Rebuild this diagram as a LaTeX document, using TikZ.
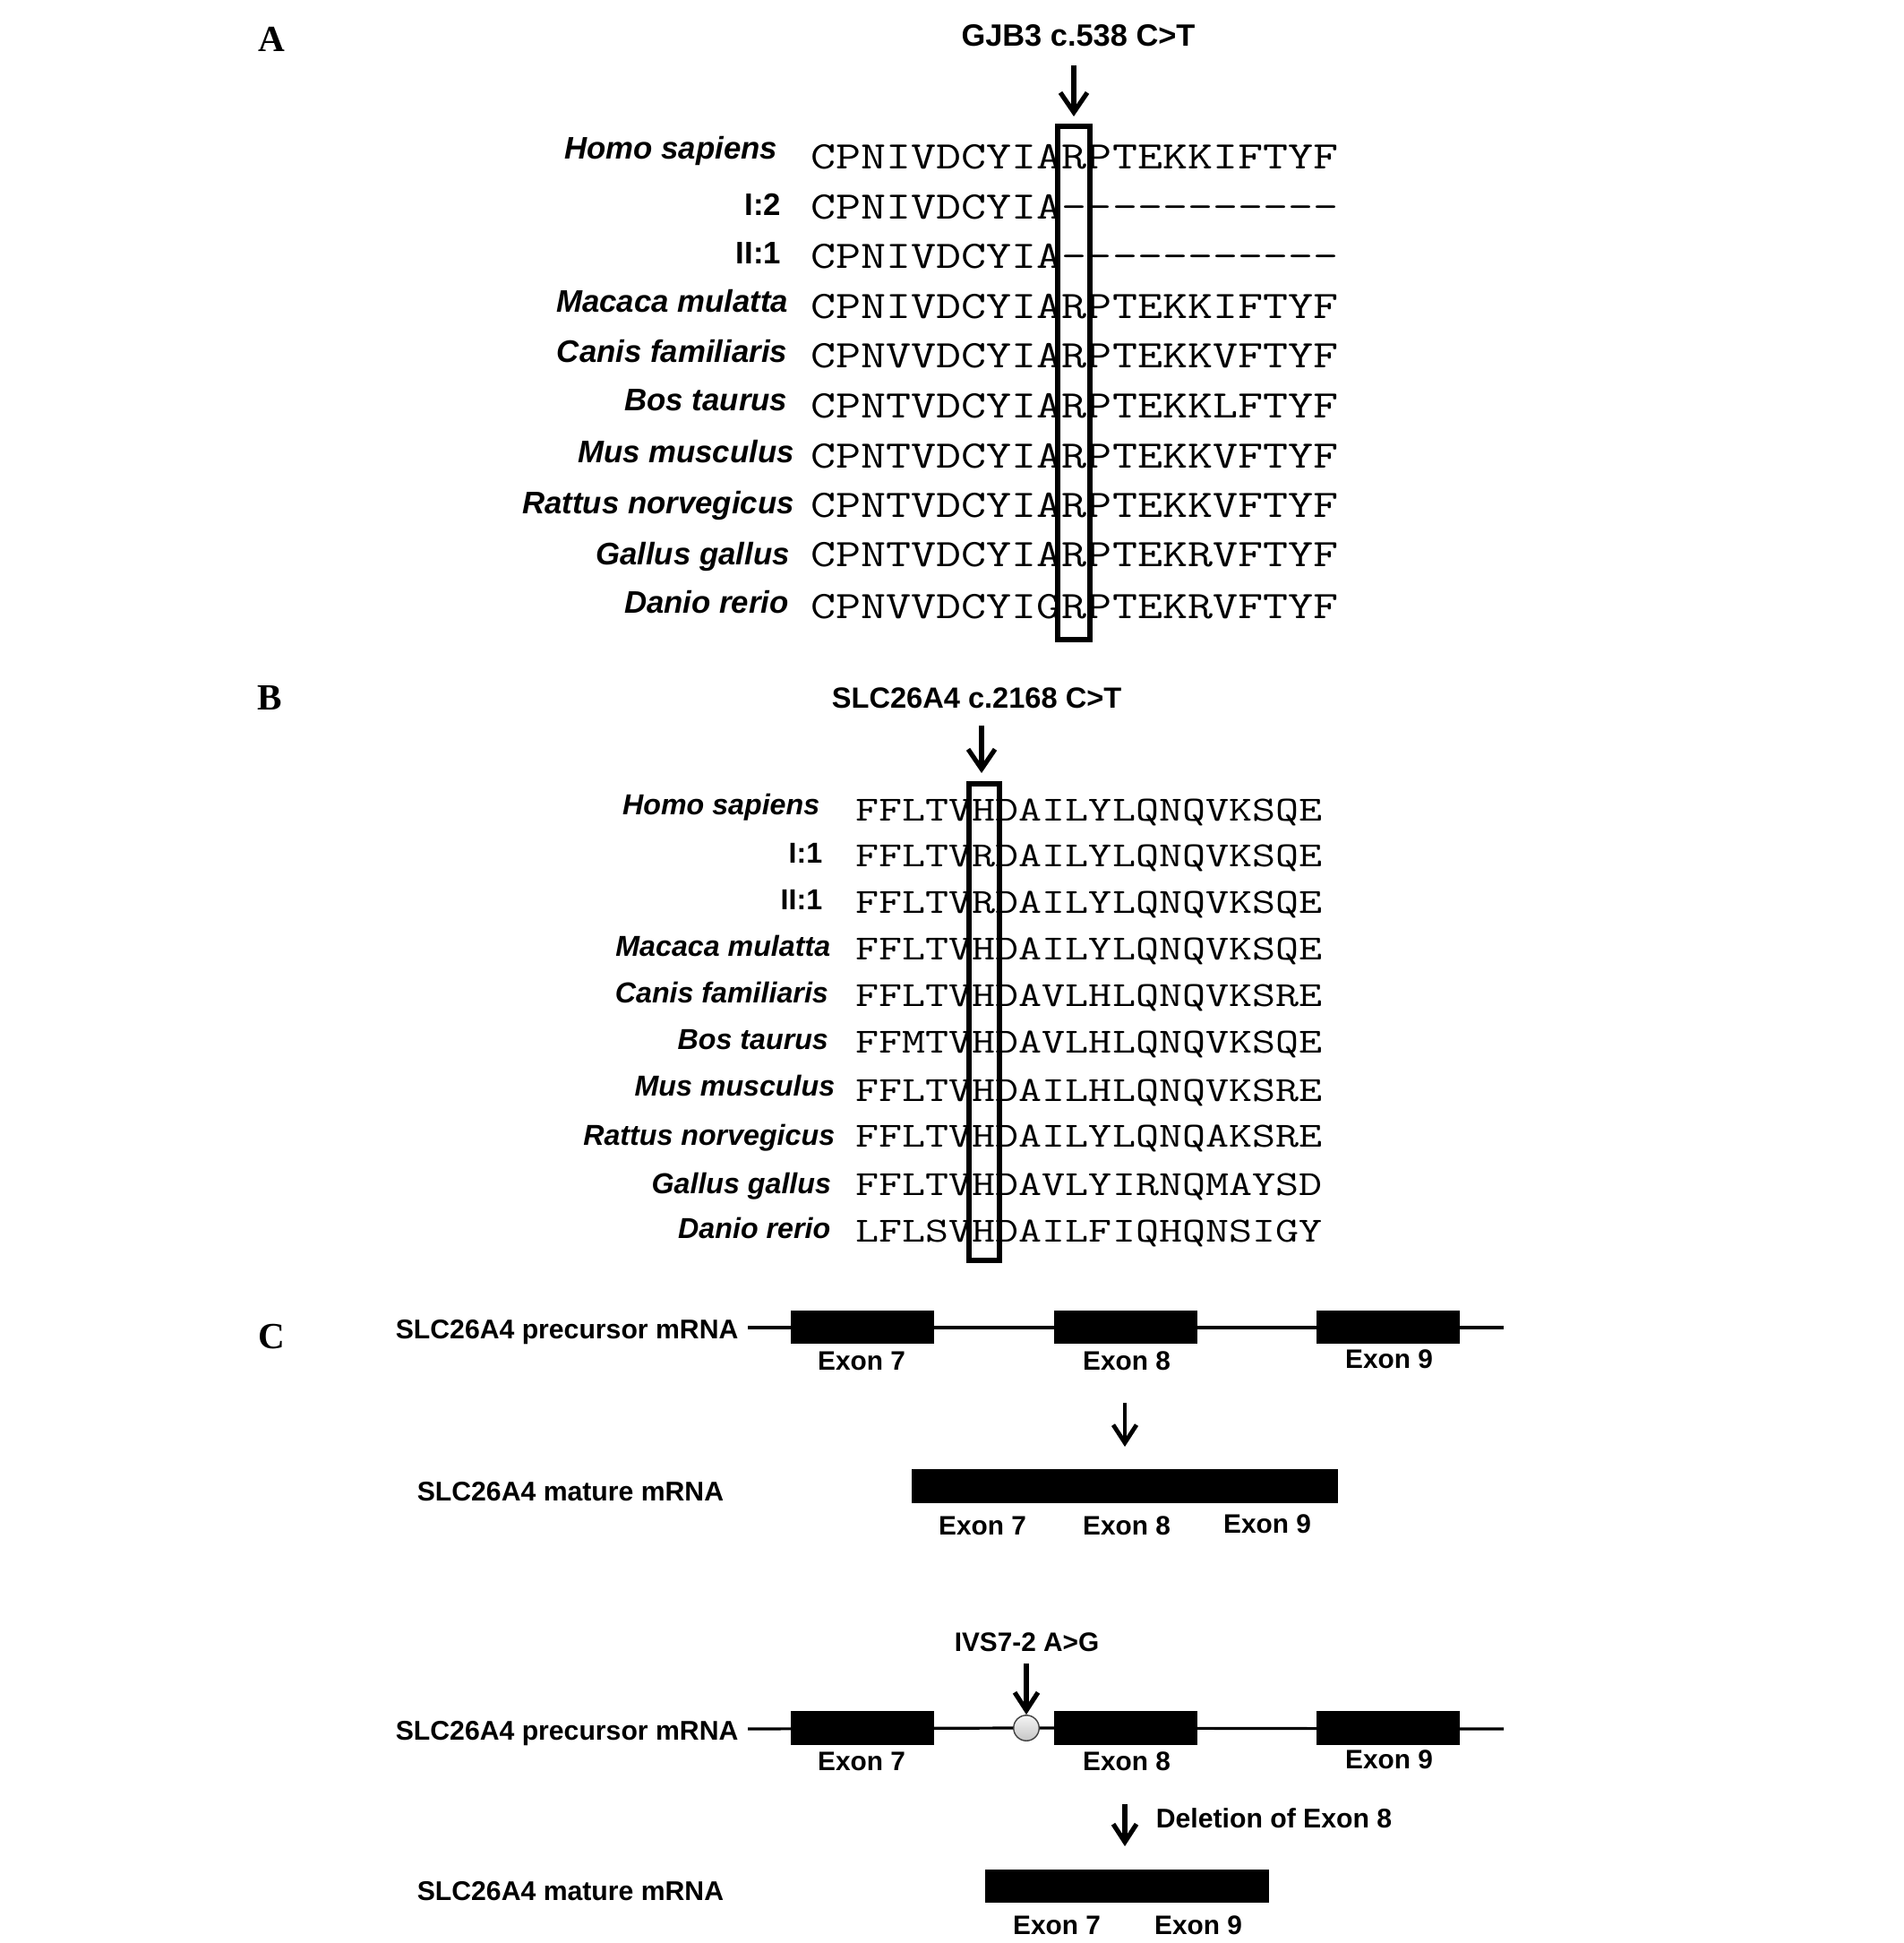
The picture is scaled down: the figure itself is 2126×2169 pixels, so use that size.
\documentclass[tikz,border=0pt]{standalone}
\usepackage{fontspec}
\setmainfont{Liberation Sans}
\newfontfamily\panelfont{Liberation Serif}
\usepackage{graphicx}
\usetikzlibrary{arrows.meta}
\newcommand\dsh{\mbox{-}}
\newcommand\seqA[1]{\scalebox{1}[0.8]{\fontsize{13.6pt}{14pt}\selectfont\ttfamily #1}}
\newcommand\seqB[1]{\scalebox{1}[0.78]{\fontsize{12.63pt}{13pt}\selectfont\ttfamily #1}}
\tikzset{
  panel/.style={anchor=base west, inner sep=0pt, font=\panelfont\bfseries\fontsize{10.3pt}{11pt}\selectfont},
  labA/.style={anchor=base east, inner sep=0pt, font=\bfseries\itshape\fontsize{8.7pt}{9pt}\selectfont},
  labB/.style={anchor=base east, inner sep=0pt, font=\bfseries\itshape\fontsize{8.05pt}{9pt}\selectfont},
  seqnode/.style={anchor=base west, inner sep=0pt},
  titleA/.style={anchor=base, inner sep=0pt, font=\bfseries\fontsize{8.6pt}{9pt}\selectfont},
  titleB/.style={anchor=base, inner sep=0pt, font=\bfseries\fontsize{8.15pt}{9pt}\selectfont},
  ctext/.style={anchor=base west, inner sep=0pt, font=\bfseries\fontsize{7.55pt}{8pt}\selectfont},
  exlab/.style={anchor=base, inner sep=0pt, font=\bfseries\fontsize{7.45pt}{8pt}\selectfont},
  hibox/.style={draw=black, line width=1.6pt},
  bigarrow/.style={line width=1.3pt, -{Straight Barb[length=5.5pt,width=7.5pt]}},
  smallarrow/.style={line width=1.2pt, -{Straight Barb[length=5pt,width=6.5pt]}},
  gene/.style={line width=0.8pt},
  exon/.style={fill=black, draw=none},
}
\begin{document}
\begin{tikzpicture}[x=0.25pt, y=-0.25pt]
\useasboundingbox (0,0) rectangle (2126,2169);
\fill[white] (0,0) rectangle (2126,2169);

% ---------------- Panel A ----------------
\node[panel] (pA) at (288,58) {A};
\node[titleA] (tA) at (1204,52) {GJB3 c.538 C>T};
\coordinate (aAs) at (1199,73);
\coordinate (aAe) at (1199,130);
\draw[bigarrow] (aAs) -- (aAe);

\node[labA] (lA1) at (869,178) {Homo sapiens};
\node[labA,font=\bfseries\fontsize{8.7pt}{9pt}\selectfont] (lA2) at (873,241) {I:2};
\node[labA,font=\bfseries\fontsize{8.7pt}{9pt}\selectfont] (lA3) at (873,294.6) {II:1};
\node[labA] (lA4) at (881,349) {Macaca mulatta};
\node[labA] (lA5) at (880,405) {Canis familiaris};
\node[labA] (lA6) at (880,459) {Bos taurus};
\node[labA] (lA7) at (887.6,517) {Mus musculus};
\node[labA] (lA8) at (887.6,574) {Rattus norvegicus};
\node[labA] (lA9) at (882.6,631) {Gallus gallus};
\node[labA] (lA10) at (881.5,685) {Danio rerio};

\node[seqnode] (sA1) at (905,188.5) {\seqA{CPNIVDCYIARPTEKKIFTYF}};
\node[seqnode] (sA2) at (905,245) {\seqA{CPNIVDCYIA\dsh\dsh\dsh\dsh\dsh\dsh\dsh\dsh\dsh\dsh\dsh}};
\node[seqnode] (sA3) at (905,299.5) {\seqA{CPNIVDCYIA\dsh\dsh\dsh\dsh\dsh\dsh\dsh\dsh\dsh\dsh\dsh}};
\node[seqnode] (sA4) at (905,356) {\seqA{CPNIVDCYIARPTEKKIFTYF}};
\node[seqnode] (sA5) at (905,410.5) {\seqA{CPNVVDCYIARPTEKKVFTYF}};
\node[seqnode] (sA6) at (905,467) {\seqA{CPNTVDCYIARPTEKKLFTYF}};
\node[seqnode] (sA7) at (905,523) {\seqA{CPNTVDCYIARPTEKKVFTYF}};
\node[seqnode] (sA8) at (905,578) {\seqA{CPNTVDCYIARPTEKKVFTYF}};
\node[seqnode] (sA9) at (905,633) {\seqA{CPNTVDCYIARPTEKRVFTYF}};
\node[seqnode] (sA10) at (905,690.6) {\seqA{CPNVVDCYIGRPTEKRVFTYF}};

\coordinate (bAtl) at (1181,141);
\coordinate (bAbr) at (1217,714);
\draw[hibox] (bAtl) rectangle (bAbr);

% ---------------- Panel B ----------------
\node[panel] (pB) at (287,792) {B};
\node[titleB] (tB) at (1090.6,790) {SLC26A4 c.2168 C>T};
\coordinate (aBs) at (1096,810);
\coordinate (aBe) at (1096,863);
\draw[bigarrow] (aBs) -- (aBe);

\node[labB] (lB1) at (916,909.6) {Homo sapiens};
\node[labB,font=\bfseries\fontsize{8.05pt}{9pt}\selectfont] (lB2) at (919,963) {I:1};
\node[labB,font=\bfseries\fontsize{8.05pt}{9pt}\selectfont] (lB3) at (919,1015) {II:1};
\node[labB] (lB4) at (928,1067) {Macaca mulatta};
\node[labB] (lB5) at (925.7,1119) {Canis familiaris};
\node[labB] (lB6) at (925.7,1171) {Bos taurus};
\node[labB] (lB7) at (933,1223) {Mus musculus};
\node[labB] (lB8) at (933,1278) {Rattus norvegicus};
\node[labB] (lB9) at (928.8,1332) {Gallus gallus};
\node[labB] (lB10) at (928,1382) {Danio rerio};

\node[seqnode] (sB1) at (955,916) {\seqB{FFLTVHDAILYLQNQVKSQE}};
\node[seqnode] (sB2) at (955,967) {\seqB{FFLTVRDAILYLQNQVKSQE}};
\node[seqnode] (sB3) at (955,1019) {\seqB{FFLTVRDAILYLQNQVKSQE}};
\node[seqnode] (sB4) at (955,1071) {\seqB{FFLTVHDAILYLQNQVKSQE}};
\node[seqnode] (sB5) at (955,1123) {\seqB{FFLTVHDAVLHLQNQVKSRE}};
\node[seqnode] (sB6) at (955,1175.5) {\seqB{FFMTVHDAVLHLQNQVKSQE}};
\node[seqnode] (sB7) at (955,1229.6) {\seqB{FFLTVHDAILHLQNQVKSRE}};
\node[seqnode] (sB8) at (955,1280) {\seqB{FFLTVHDAILYLQNQAKSRE}};
\node[seqnode] (sB9) at (955,1334.6) {\seqB{FFLTVHDAVLYIRNQMAYSD}};
\node[seqnode] (sB10) at (955,1386.6) {\seqB{LFLSVHDAILFIQHQNSIGY}};

\coordinate (bBtl) at (1082,875);
\coordinate (bBbr) at (1116,1407);
\draw[hibox] (bBtl) rectangle (bBbr);

% ---------------- Panel C ----------------
\node[panel] (pC) at (288,1505) {C};

% normal splicing
\node[ctext] (pre1) at (441,1494) {SLC26A4 precursor mRNA};
\coordinate (g1s) at (835,1482);
\coordinate (g1e) at (1679,1482);
\draw[gene] (g1s) -- (g1e);
\fill[exon] (883,1463) rectangle (1043,1500);
\fill[exon] (1177,1463) rectangle (1337,1500);
\fill[exon] (1470,1463) rectangle (1630,1500);
\node[exlab] (e17) at (962,1529) {Exon 7};
\node[exlab] (e18) at (1258,1529) {Exon 8};
\node[exlab] (e19) at (1551,1527) {Exon 9};

\coordinate (a1s) at (1256,1566);
\coordinate (a1e) at (1256,1615);
\draw[smallarrow] (a1s) -- (a1e);

\node[ctext] (mat1) at (465,1675) {SLC26A4 mature mRNA};
\fill[exon] (1018,1640) rectangle (1494,1678);
\node[exlab] (m17) at (1097,1713) {Exon 7};
\node[exlab] (m18) at (1258,1713) {Exon 8};
\node[exlab] (m19) at (1415,1711) {Exon 9};

% mutant splicing
\node[exlab] (ivs) at (1146.5,1843) {IVS7-2 A>G};
\node[circle, minimum size=28.5*0.25pt, inner sep=0pt, draw=black!75, line width=0.35pt,
      top color=gray!8, bottom color=gray!45] (mut) at (1146,1929) {};
\coordinate (a2s) at (1146,1857);
\draw[smallarrow, line width=1.3pt] (a2s) -- (mut.north);

\node[ctext] (pre2) at (441,1942) {SLC26A4 precursor mRNA};
\coordinate (g2s) at (835,1930);
\coordinate (g2e) at (1679,1930);
\draw[gene] (g2s) -- (mut.west);
\draw[gene] (mut.east) -- (g2e);
\fill[exon] (883,1910) rectangle (1043,1948);
\fill[exon] (1177,1910) rectangle (1337,1948);
\fill[exon] (1470,1910) rectangle (1630,1948);
\node[exlab] (e27) at (962,1976) {Exon 7};
\node[exlab] (e28) at (1258,1976) {Exon 8};
\node[exlab] (e29) at (1551,1974) {Exon 9};

\coordinate (a3s) at (1256,2014);
\coordinate (a3e) at (1256,2061);
\draw[smallarrow, line width=1.3pt] (a3s) -- (a3e);
\node[ctext] (del) at (1290,2040.5) {Deletion of Exon 8};

\node[ctext] (mat2) at (465,2121) {SLC26A4 mature mRNA};
\fill[exon] (1100,2087) rectangle (1417,2124);
\node[exlab] (m27) at (1180,2159) {Exon 7};
\node[exlab] (m29) at (1338,2159) {Exon 9};
\end{tikzpicture}
\end{document}
